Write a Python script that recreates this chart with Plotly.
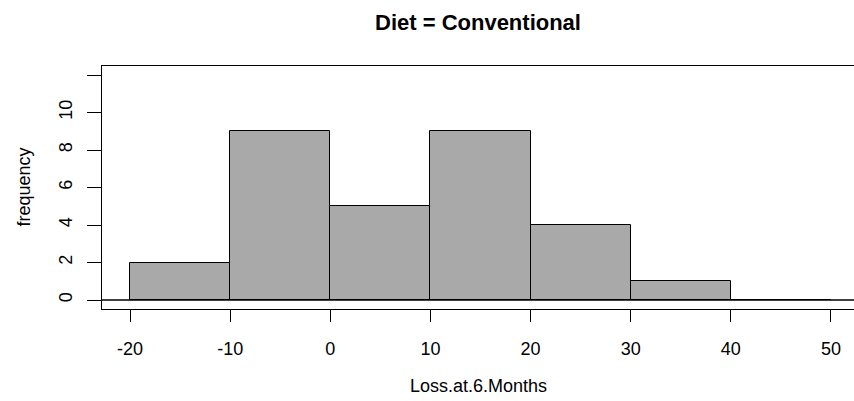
import plotly.graph_objects as go

# Histogram of weight loss at 6 months, conventional diet group
bin_edges = [-20, -10, 0, 10, 20, 30, 40, 50]
counts = [2, 9, 5, 9, 4, 1, 0]
x_ticks = [-20, -10, 0, 10, 20, 30, 40, 50]
x_tick_text = ["-20", "-10", "0", "10", "20", "30", "40", "50"]
y_ticks = [0, 2, 4, 6, 8, 10, 12]
y_tick_text = ["0", "2", "4", "6", "8", "10", ""]

centers = [(a + b) / 2 for a, b in zip(bin_edges[:-1], bin_edges[1:])]
widths = [b - a for a, b in zip(bin_edges[:-1], bin_edges[1:])]

font = "Liberation Sans, Arial, sans-serif"

fig = go.Figure(
    go.Bar(
        x=centers,
        y=counts,
        width=widths,
        marker=dict(color="#A9A9A9", line=dict(color="black", width=1)),
        hoverinfo="x+y",
    )
)

fig.add_shape(
    type="line", xref="paper", yref="y", x0=0, x1=1, y0=0, y1=0,
    line=dict(color="black", width=1.3),
)

fig.update_layout(
    width=854,
    height=401,
    margin=dict(l=102, r=0, t=66, b=92),
    paper_bgcolor="white",
    plot_bgcolor="white",
    showlegend=False,
    font=dict(family=font, size=18, color="black"),
    bargap=0,
    xaxis=dict(
        range=[-22.8, 52.3],
        tickvals=x_ticks,
        ticktext=x_tick_text,
        ticks="outside",
        ticklen=12,
        tickcolor="black",
        showline=True,
        mirror=True,
        linecolor="black",
        linewidth=1,
        showgrid=False,
        zeroline=False,
        ticklabelstandoff=11,
    ),
    yaxis=dict(
        range=[-0.48, 12.48],
        tickvals=y_ticks,
        ticktext=y_tick_text,
        tickangle=-90,
        ticks="outside",
        ticklen=14,
        tickcolor="black",
        showline=True,
        mirror=False,
        linecolor="black",
        linewidth=1,
        showgrid=False,
        zeroline=False,
        ticklabelstandoff=8,
    ),
    annotations=[
        dict(
            text="<b>Diet = Conventional</b>", xref="paper", yref="paper",
            x=0.5, y=1, xanchor="center", yanchor="middle", yshift=44,
            showarrow=False,
            font=dict(family=font, size=22, color="black"),
        ),
        dict(
            text="Loss.at.6.Months", xref="paper", yref="paper",
            x=0.5, y=0, xanchor="center", yanchor="middle", yshift=-77,
            showarrow=False,
            font=dict(family=font, size=18, color="black"),
        ),
        dict(
            text="frequency", xref="paper", yref="paper",
            x=0, y=0.5, xanchor="center", yanchor="middle", xshift=-79,
            textangle=-90, showarrow=False,
            font=dict(family=font, size=18, color="black"),
        ),
    ],
)

fig.write_html("out.html")
